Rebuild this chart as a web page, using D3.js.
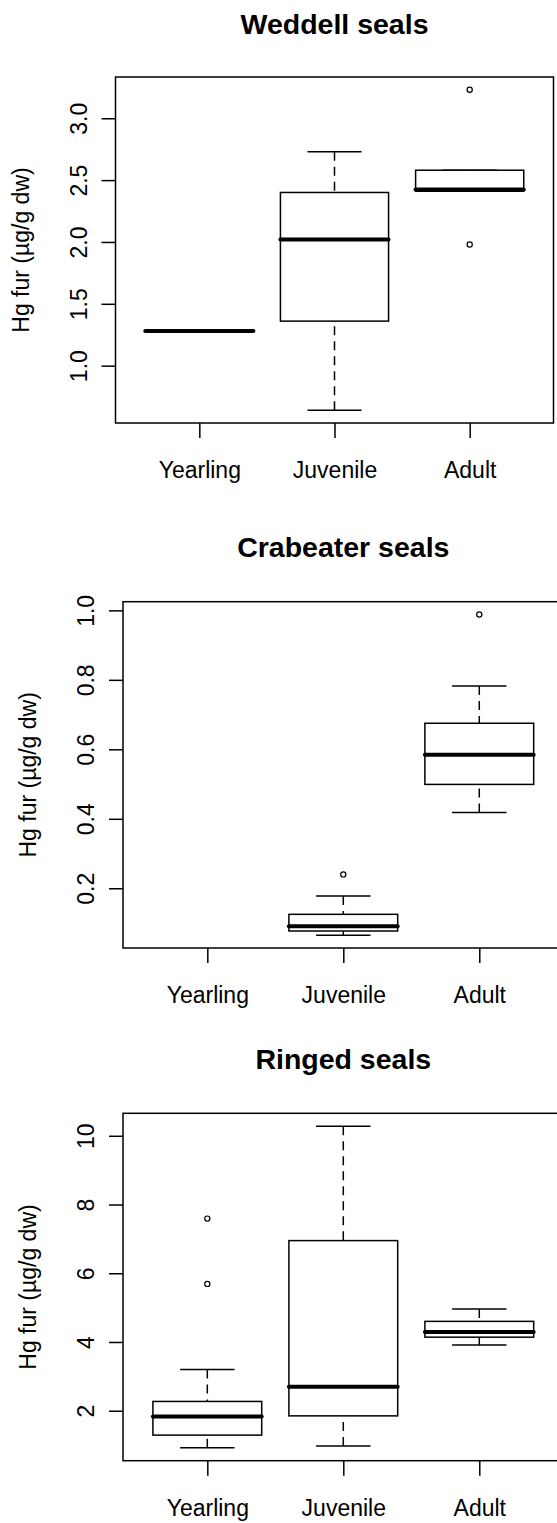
<!DOCTYPE html>
<html>
<head>
<meta charset="utf-8">
<script src="https://cdn.jsdelivr.net/npm/d3@7"></script>
<style>
  html, body { margin: 0; padding: 0; background: #fff; }
  svg { display: block; }
  text { font-family: "Liberation Sans", Arial, sans-serif; fill: #000; }
</style>
</head>
<body>
<script>
// ---------------- data ----------------
const categories = ["Yearling", "Juvenile", "Adult"];
const titles = ["Weddell seals", "Crabeater seals", "Ringed seals"];
const yLabel = "Hg fur (µg/g dw)";

// five-number summaries: [lower whisker, Q1, median, Q3, upper whisker]; null = no data
const weddellStats = [
  [1.28, 1.28, 1.28, 1.28, 1.28],
  [0.64, 1.36, 2.02, 2.40, 2.73],
  [2.41, 2.41, 2.425, 2.58, 2.58]
];
const weddellOutliers = [[], [], [3.23, 1.98]];

const crabeaterStats = [
  null,
  [0.065, 0.077, 0.091, 0.125, 0.178],
  [0.418, 0.499, 0.584, 0.675, 0.782]
];
const crabeaterOutliers = [[], [0.24], [0.988]];

const ringedStats = [
  [0.92, 1.29, 1.83, 2.27, 3.20],
  [0.97, 1.85, 2.70, 6.95, 10.28],
  [3.91, 4.14, 4.29, 4.60, 4.96]
];
const ringedOutliers = [[7.59, 5.69], [], []];

const weddellTicks = [1.0, 1.5, 2.0, 2.5, 3.0];
const crabeaterTicks = [0.2, 0.4, 0.6, 0.8, 1.0];
const ringedTicks = [2, 4, 6, 8, 10];
const tickFormats = [".1f", ".1f", "d"];

// ---------------- layout ----------------
const W = 557, H = 1523;
const panels = [
  { stats: weddellStats, outs: weddellOutliers, ticks: weddellTicks, fmt: tickFormats[0],
    left: 115.5, right: 553.5, top: 77, bottom: 423, titleY: 33.5, ylabX: 29 },
  { stats: crabeaterStats, outs: crabeaterOutliers, ticks: crabeaterTicks, fmt: tickFormats[1],
    left: 123, right: 563.6, top: 601.7, bottom: 948, titleY: 557, ylabX: 36 },
  { stats: ringedStats, outs: ringedOutliers, ticks: ringedTicks, fmt: tickFormats[2],
    left: 123, right: 563.6, top: 1113.3, bottom: 1460.7, titleY: 1069, ylabX: 36 }
];

const svg = d3.select("body").append("svg")
  .attr("width", W).attr("height", H);

panels.forEach((p, i) => {
  const g = svg.append("g");

  // y domain: data range extended by 4% (R default)
  const allVals = [];
  p.stats.forEach(s => { if (s) allVals.push(...s); });
  p.outs.forEach(o => allVals.push(...o));
  const [mn, mx] = d3.extent(allVals);
  const ext = (mx - mn) * 0.04;
  const y = d3.scaleLinear().domain([mn - ext, mx + ext]).range([p.bottom, p.top]);
  // x: categories at 1..3, domain 0.5..3.5 extended 4%
  const x = d3.scaleLinear().domain([0.38, 3.62]).range([p.left, p.right]);
  const spacing = x(2) - x(1);
  const boxW = spacing * 0.8;
  const stapleW = boxW * 0.5;

  // title
  g.append("text")
    .attr("x", x(2)).attr("y", p.titleY)
    .attr("text-anchor", "middle")
    .style("font-size", "28.5px").style("font-weight", "bold")
    .text(titles[i]);

  // y axis
  const yAxis = d3.axisLeft(y).tickValues(p.ticks).tickSize(14)
    .tickFormat(d3.format(p.fmt));
  const ya = g.append("g").attr("transform", `translate(${p.left},0)`).call(yAxis);
  ya.select(".domain").remove();
  ya.selectAll(".tick line").attr("stroke", "#000").attr("stroke-width", 1.5);
  ya.selectAll(".tick text")
    .attr("x", null).attr("dy", null).attr("y", null)
    .attr("transform", "translate(-29,0) rotate(-90)")
    .attr("text-anchor", "middle")
    .style("font-size", "23px")
    .style("font-family", '"Liberation Sans", Arial, sans-serif')
    .attr("fill", "#000");

  // x axis
  const xAxis = d3.axisBottom(x).tickValues([1, 2, 3]).tickSize(15)
    .tickFormat((d) => categories[d - 1]);
  const xa = g.append("g").attr("transform", `translate(0,${p.bottom})`).call(xAxis);
  xa.select(".domain").remove();
  xa.selectAll(".tick line").attr("stroke", "#000").attr("stroke-width", 1.5);
  xa.selectAll(".tick text")
    .attr("y", 55).attr("dy", null)
    .style("font-size", "23px")
    .style("font-family", '"Liberation Sans", Arial, sans-serif')
    .attr("fill", "#000");

  // y label
  g.append("text")
    .attr("transform", `translate(${p.ylabX},${(p.top + p.bottom) / 2}) rotate(-90)`)
    .attr("text-anchor", "middle")
    .style("font-size", "23px")
    .text(yLabel);

  // boxes
  p.stats.forEach((s, k) => {
    if (!s) return;
    const cx = x(k + 1);
    const [lo, q1, med, q3, hi] = s;
    const bg = g.append("g");
    // whiskers (dashed)
    bg.append("line").attr("x1", cx).attr("x2", cx).attr("y1", y(lo)).attr("y2", y(q1))
      .attr("stroke", "#000").attr("stroke-width", 1.5).attr("stroke-dasharray", "9,6");
    bg.append("line").attr("x1", cx).attr("x2", cx).attr("y1", y(hi)).attr("y2", y(q3))
      .attr("stroke", "#000").attr("stroke-width", 1.5).attr("stroke-dasharray", "9,6");
    // staples
    [lo, hi].forEach(v => {
      bg.append("line").attr("x1", cx - stapleW / 2).attr("x2", cx + stapleW / 2)
        .attr("y1", y(v)).attr("y2", y(v))
        .attr("stroke", "#000").attr("stroke-width", 1.5);
    });
    // box
    bg.append("rect")
      .attr("x", cx - boxW / 2).attr("width", boxW)
      .attr("y", y(q3)).attr("height", Math.max(0, y(q1) - y(q3)))
      .attr("fill", "#fff").attr("stroke", "#000").attr("stroke-width", 1.5);
    // median
    bg.append("line").attr("x1", cx - boxW / 2).attr("x2", cx + boxW / 2)
      .attr("y1", y(med)).attr("y2", y(med))
      .attr("stroke", "#000").attr("stroke-width", 4).attr("stroke-linecap", "round");
  });

  // outliers
  p.outs.forEach((arr, k) => {
    g.selectAll(null).data(arr).enter().append("circle")
      .attr("cx", x(k + 1)).attr("cy", d => y(d)).attr("r", 2.6)
      .attr("fill", "none").attr("stroke", "#000").attr("stroke-width", 1.2);
  });

  // frame
  g.append("rect")
    .attr("x", p.left).attr("y", p.top)
    .attr("width", p.right - p.left).attr("height", p.bottom - p.top)
    .attr("fill", "none").attr("stroke", "#000").attr("stroke-width", 1.5);
});
</script>
</body>
</html>
